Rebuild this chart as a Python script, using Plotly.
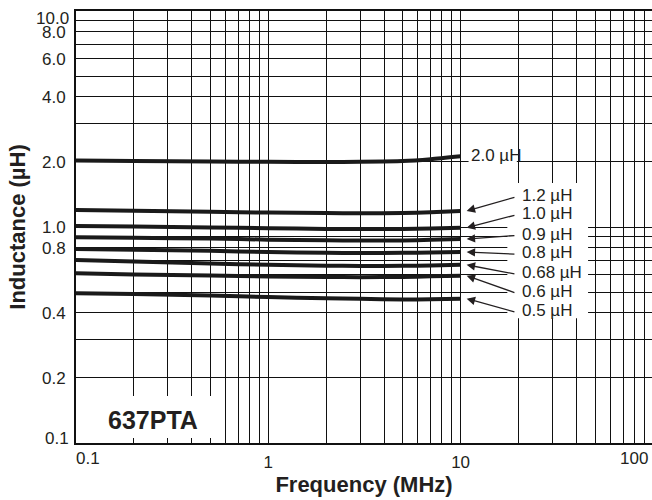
import math
import plotly.graph_objects as go

# ---- data ----
freq_mhz = [0.1, 0.2, 0.5, 1, 2, 3, 5, 7, 10]
series_names = ["2.0 µH", "1.2 µH", "1.0 µH", "0.9 µH", "0.8 µH", "0.68 µH", "0.6 µH", "0.5 µH"]
L_2_0 = [2.03, 2.02, 2.01, 2.005, 2.00, 2.005, 2.02, 2.06, 2.125]
L_1_2 = [1.199, 1.190, 1.177, 1.166, 1.160, 1.158, 1.160, 1.170, 1.186]
L_1_0 = [1.011, 1.005, 0.996, 0.987, 0.980, 0.978, 0.979, 0.984, 0.993]
L_0_9 = [0.896, 0.891, 0.884, 0.874, 0.868, 0.866, 0.867, 0.872, 0.880]
L_0_8 = [0.791, 0.785, 0.776, 0.766, 0.760, 0.758, 0.759, 0.762, 0.766]
L_0_68 = [0.704, 0.693, 0.678, 0.668, 0.662, 0.660, 0.661, 0.664, 0.668]
L_0_6 = [0.610, 0.603, 0.596, 0.590, 0.587, 0.586, 0.587, 0.591, 0.595]
L_0_5 = [0.493, 0.489, 0.482, 0.474, 0.468, 0.465, 0.462, 0.463, 0.466]
series_values = [L_2_0, L_1_2, L_1_0, L_0_9, L_0_8, L_0_68, L_0_6, L_0_5]

# label text positions (inductance level of each label, right side)
label_levels = [2.15, 1.40, 1.155, 0.928, 0.760, 0.614, 0.502, 0.409]

x_grid = [m * 10 ** e for e in (-1, 0, 1) for m in range(1, 10)] + [100]
x_labels = {1: "1", 10: "10"}
y_grid = [m * 10 ** e for e in (-1, 0) for m in range(1, 10)] + [10]
y_labels = {0.2: "0.2", 0.4: "0.4", 0.6: "0.6", 0.8: "0.8", 1: "1.0", 2: "2.0", 4: "4.0", 6: "6.0", 8: "8.0"}

INK = "#231f20"
FONT = "Liberation Sans, Arial, Helvetica, sans-serif"
TICK = 17

fig = go.Figure()
for name, vals in zip(series_names, series_values):
    fig.add_trace(go.Scatter(x=freq_mhz, y=vals, mode="lines", name=name,
                             line=dict(color="#1a1a1a", width=4, shape="spline", smoothing=0.6),
                             showlegend=False, hoverinfo="skip"))

def fx(v):
    return math.log10(v)

# white patches (as in the printed chart)
fig.add_shape(type="rect", xref="x", yref="y", x0=0.1, x1=0.58, y0=0.1055, y1=0.165,
              fillcolor="white", line=dict(width=0), layer="above")
fig.add_shape(type="rect", xref="x", yref="y", x0=17.5, x1=46, y0=0.378, y1=1.6,
              fillcolor="white", line=dict(width=0), layer="above")
fig.add_shape(type="rect", xref="x", yref="y", x0=11.0, x1=19.6, y0=1.96, y1=2.45,
              fillcolor="white", line=dict(width=0), layer="above")

ann = []
# product name
ann.append(dict(x=fx(0.251), y=fx(0.128), xref="x", yref="y", text="<b>637PTA</b>", showarrow=False,
                font=dict(size=25, color=INK, family=FONT), xanchor="center", yanchor="middle"))
# curve labels
for i, (name, vals, lvl) in enumerate(zip(series_names, series_values, label_levels)):
    if i == 0:
        ann.append(dict(x=fx(11.1), y=fx(lvl), xref="x", yref="y", text=name, showarrow=False,
                        xanchor="left", yanchor="middle", font=dict(size=TICK, color=INK, family=FONT)))
    else:
        ann.append(dict(x=fx(20.3), y=fx(lvl), xref="x", yref="y", text=name, showarrow=False,
                        xanchor="left", yanchor="middle", font=dict(size=TICK, color=INK, family=FONT)))
        ann.append(dict(x=fx(10.75), y=fx(vals[-1]), xref="x", yref="y",
                        ax=fx(19.4), ay=fx(lvl * 0.985), axref="x", ayref="y", text="",
                        showarrow=True, arrowhead=2, arrowsize=1.3, arrowwidth=1.3, arrowcolor=INK))
# edge tick labels
ann.append(dict(x=fx(0.1), y=0, xref="x", yref="paper", text="0.1", showarrow=False,
                xanchor="left", yanchor="top", yshift=-4, xshift=-2, font=dict(size=TICK, color=INK, family=FONT)))
ann.append(dict(x=1, y=0, xref="paper", yref="paper", text="100", showarrow=False,
                xanchor="right", yanchor="top", yshift=-4, xshift=-2, font=dict(size=TICK, color=INK, family=FONT)))
ann.append(dict(x=0, y=fx(10), xref="paper", yref="y", text="10.0", showarrow=False,
                xanchor="right", yanchor="middle", xshift=-5, yshift=-7, font=dict(size=TICK, color=INK, family=FONT)))
ann.append(dict(x=0, y=fx(0.1), xref="paper", yref="y", text="0.1", showarrow=False,
                xanchor="right", yanchor="middle", xshift=-5, yshift=5, font=dict(size=TICK, color=INK, family=FONT)))

decade_px = 192.3
plot_w = 652 - 76
fig.update_layout(
    width=652, height=500,
    margin=dict(l=76, r=0, t=11, b=57),
    paper_bgcolor="white", plot_bgcolor="white",
    font=dict(family=FONT, color=INK, size=TICK),
    annotations=ann,
    xaxis=dict(type="log", range=[-1, -1 + plot_w / decade_px], automargin=False,
               tickvals=x_grid, ticktext=[x_labels.get(v, "") for v in x_grid],
               showgrid=True, gridcolor="#111111", gridwidth=1,
               showline=True, linecolor="#111111", linewidth=2, mirror=True,
               ticks="", ticklabelstandoff=3, zeroline=False,
               tickfont=dict(size=TICK, color=INK, family=FONT),
               title=dict(text="Frequency (MHz)", standoff=4,
                          font=dict(size=22, color=INK, family=FONT, weight="bold"))),
    yaxis=dict(type="log", range=[-1, 1], automargin=False,
               tickvals=y_grid, ticktext=[y_labels.get(v, "") for v in y_grid],
               showgrid=True, gridcolor="#111111", gridwidth=1,
               showline=True, linecolor="#111111", linewidth=2,
               ticks="", ticklabelstandoff=5, zeroline=False,
               tickfont=dict(size=TICK, color=INK, family=FONT),
               title=dict(text="Inductance (µH)", standoff=10,
                          font=dict(size=22, color=INK, family=FONT, weight="bold"))),
)
fig.write_html("out.html", config={"displayModeBar": False, "staticPlot": True},
               post_script="document.body.style.margin='0';document.body.style.overflow='hidden';")
